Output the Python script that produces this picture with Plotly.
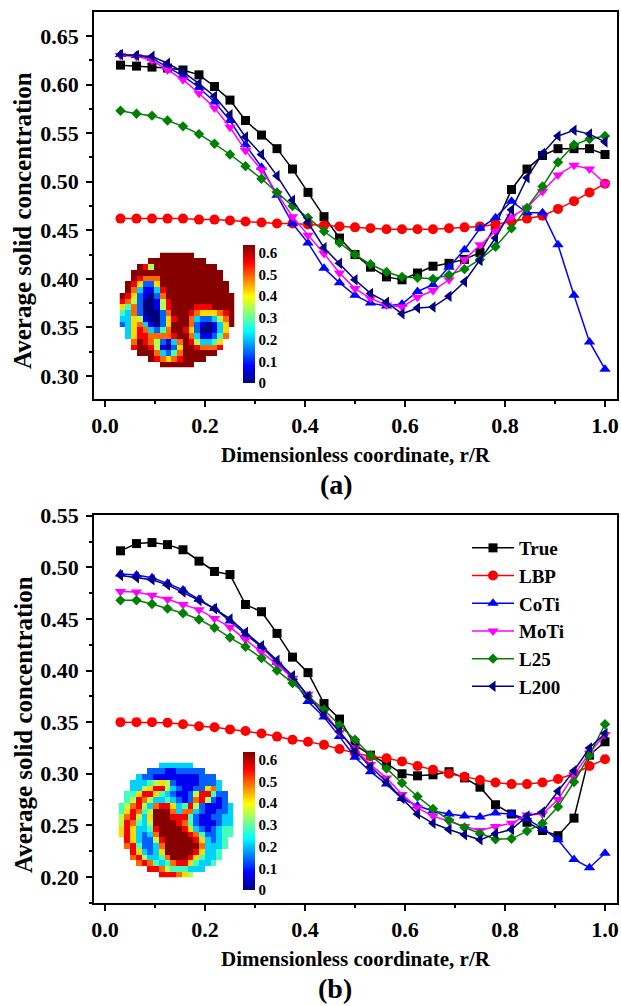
import plotly.graph_objects as go

# ---------------- data ----------------
r_R = [0.031, 0.063, 0.094, 0.125, 0.156, 0.188, 0.219, 0.250, 0.281, 0.313, 0.344,
       0.375, 0.406, 0.438, 0.469, 0.500, 0.531, 0.563, 0.594, 0.625, 0.656, 0.688,
       0.719, 0.750, 0.781, 0.813, 0.844, 0.875, 0.906, 0.938, 0.969, 1.000]

series_names = ["True", "LBP", "CoTi", "MoTi", "L25", "L200"]

# panel (a)
true_a = [0.620, 0.619, 0.618, 0.617, 0.615, 0.610, 0.598, 0.584, 0.563, 0.548, 0.534,
          0.513, 0.489, 0.464, 0.442, 0.425, 0.412, 0.402, 0.399, 0.406, 0.413, 0.416,
          0.420, 0.427, 0.455, 0.492, 0.513, 0.527, 0.534, 0.534, 0.534, 0.528]
lbp_a = [0.462, 0.462, 0.462, 0.462, 0.462, 0.461, 0.461, 0.460, 0.459, 0.458, 0.457,
         0.457, 0.456, 0.455, 0.454, 0.453, 0.452, 0.451, 0.451, 0.451, 0.451, 0.452,
         0.453, 0.454, 0.456, 0.459, 0.462, 0.465, 0.472, 0.480, 0.489, 0.498]
coti_a = [0.631, 0.630, 0.627, 0.618, 0.609, 0.597, 0.582, 0.563, 0.538, 0.515, 0.486,
          0.457, 0.437, 0.411, 0.396, 0.383, 0.375, 0.372, 0.374, 0.387, 0.394, 0.412,
          0.430, 0.452, 0.463, 0.480, 0.468, 0.468, 0.435, 0.383, 0.335, 0.307]
moti_a = [0.630, 0.629, 0.625, 0.615, 0.605, 0.591, 0.576, 0.556, 0.532, 0.512, 0.488,
          0.464, 0.445, 0.426, 0.406, 0.390, 0.380, 0.373, 0.371, 0.381, 0.388, 0.399,
          0.420, 0.435, 0.449, 0.464, 0.473, 0.490, 0.507, 0.517, 0.513, 0.498]
l25_a = [0.573, 0.570, 0.568, 0.563, 0.557, 0.549, 0.539, 0.528, 0.516, 0.503, 0.489,
         0.475, 0.463, 0.449, 0.437, 0.425, 0.415, 0.407, 0.402, 0.401, 0.400, 0.404,
         0.410, 0.420, 0.433, 0.452, 0.473, 0.495, 0.520, 0.538, 0.544, 0.547]
l200_a = [0.631, 0.630, 0.629, 0.622, 0.613, 0.601, 0.588, 0.569, 0.546, 0.528, 0.506,
          0.481, 0.458, 0.432, 0.416, 0.399, 0.385, 0.376, 0.364, 0.370, 0.371, 0.382,
          0.397, 0.419, 0.442, 0.471, 0.504, 0.529, 0.547, 0.553, 0.549, 0.541]

# panel (b)
true_b = [0.516, 0.523, 0.524, 0.522, 0.517, 0.506, 0.496, 0.493, 0.464, 0.457, 0.436,
          0.413, 0.398, 0.368, 0.353, 0.328, 0.318, 0.310, 0.300, 0.298, 0.299, 0.302,
          0.296, 0.287, 0.270, 0.261, 0.253, 0.245, 0.240, 0.257, 0.318, 0.331]
lbp_b = [0.350, 0.350, 0.350, 0.3495, 0.348, 0.346, 0.345, 0.343, 0.3415, 0.339, 0.336,
         0.333, 0.331, 0.328, 0.324, 0.320, 0.317, 0.315, 0.312, 0.3075, 0.304, 0.300,
         0.297, 0.294, 0.2915, 0.290, 0.290, 0.2915, 0.295, 0.300, 0.3075, 0.314]
coti_b = [0.4935, 0.4925, 0.490, 0.4845, 0.478, 0.469, 0.460, 0.448, 0.435, 0.423, 0.408,
          0.393, 0.370, 0.355, 0.336, 0.316, 0.302, 0.290, 0.276, 0.269, 0.264, 0.261,
          0.259, 0.258, 0.262, 0.261, 0.256, 0.247, 0.236, 0.217, 0.209, 0.223]
moti_b = [0.4765, 0.476, 0.473, 0.469, 0.464, 0.459, 0.4505, 0.442, 0.430, 0.418, 0.406,
          0.3925, 0.377, 0.360, 0.340, 0.325, 0.309, 0.296, 0.280, 0.267, 0.259, 0.254,
          0.249, 0.245, 0.249, 0.252, 0.260, 0.261, 0.275, 0.299, 0.320, 0.338]
l25_b = [0.468, 0.468, 0.4645, 0.460, 0.4555, 0.4495, 0.4415, 0.432, 0.423, 0.412, 0.400,
         0.388, 0.375, 0.362, 0.347, 0.333, 0.318, 0.305, 0.291, 0.278, 0.266, 0.255,
         0.248, 0.242, 0.2365, 0.237, 0.2445, 0.252, 0.268, 0.292, 0.318, 0.348]
l200_b = [0.492, 0.490, 0.488, 0.483, 0.476, 0.468, 0.460, 0.450, 0.437, 0.424, 0.410,
          0.395, 0.375, 0.357, 0.341, 0.322, 0.307, 0.292, 0.276, 0.261, 0.252, 0.246,
          0.241, 0.236, 0.242, 0.246, 0.259, 0.263, 0.283, 0.303, 0.325, 0.339]

cbar_ticks = [0, 0.1, 0.2, 0.3, 0.4, 0.5, 0.6]
cbar_labels = ["0", "0.1", "0.2", "0.3", "0.4", "0.5", "0.6"]

# inset cross-section maps (digit d -> concentration d*0.07)
inset_a = [
    "99999999999999999999",
    "99999999999999999999",
    "99998599999999999999",
    "99999999999999999999",
    "99987779999999999999",
    "99862269999999999999",
    "99731138999999999999",
    "98621027999999999999",
    "87520015899999999999",
    "64720015899998889999",
    "43720002799987666789",
    "33651002689973223579",
    "23673102699972101369",
    "23687324799862001369",
    "33688777789973112479",
    "34798752137985334689",
    "45899851026998777899",
    "97899973247999999999",
    "99999987678999999999",
    "99999999999999999999",
]
inset_b = [
    "33333333333333333333",
    "33333222112222233333",
    "44332211111111222333",
    "44333456521111222334",
    "44335688532112267334",
    "44468864321125884223",
    "44587533432127852123",
    "45785378863485211123",
    "46874599973773211223",
    "57853699988842112233",
    "58743599998742111233",
    "68633489999863212344",
    "68632379999987422344",
    "68632258999998632344",
    "57842237999999733344",
    "56863236999998633444",
    "55785334799986433444",
    "55678743478864334444",
    "55567887544433344444",
    "55556678887654444444",
]

# ---------------- style ----------------
FONT = "Liberation Serif"
W, H = 621, 1006


def fnt(size):
    return dict(family=FONT, size=size, color="black", weight="bold")


colors = ["#000000", "#FF0000", "#0000FF", "#FF00FF", "#008000", "#000080"]
symbols = ["square", "circle", "triangle-up", "triangle-down", "diamond", "triangle-left"]
sizes = [9, 10, 10, 10, 8, 10]

jet = [[0, "#00007F"], [0.125, "#0000FF"], [0.375, "#00FFFF"],
       [0.625, "#FFFF00"], [0.875, "#FF0000"], [1, "#7F0000"]]


def decode(rows):
    n = len(rows)
    z = []
    for r, row in enumerate(rows):
        zr = []
        for c, ch in enumerate(row):
            dx = c + 0.5 - n / 2
            dy = r + 0.5 - n / 2
            zr.append(int(ch) * 0.07 if dx * dx + dy * dy <= (n / 2) ** 2 else None)
        z.append(zr)
    return z


fig = go.Figure()

panel_a = [true_a, lbp_a, coti_a, moti_a, l25_a, l200_a]
panel_b = [true_b, lbp_b, coti_b, moti_b, l25_b, l200_b]

for k, (name, ys) in enumerate(zip(series_names, panel_a)):
    fig.add_trace(go.Scatter(
        x=r_R, y=ys, name=name, mode="lines+markers", xaxis="x", yaxis="y",
        line=dict(color=colors[k], width=1.5),
        marker=dict(symbol=symbols[k], size=sizes[k], color=colors[k], line=dict(width=0)),
        showlegend=False))

for k, (name, ys) in enumerate(zip(series_names, panel_b)):
    fig.add_trace(go.Scatter(
        x=r_R, y=ys, name=name, mode="lines+markers", xaxis="x2", yaxis="y2",
        line=dict(color=colors[k], width=1.5),
        marker=dict(symbol=symbols[k], size=sizes[k], color=colors[k], line=dict(width=0)),
        showlegend=True))


def cbar(yc):
    return dict(x=243 / W, xanchor="left", xpad=0, y=(H - yc) / H, yanchor="middle",
                ypad=0, len=138, lenmode="pixels", thickness=12, thicknessmode="pixels",
                outlinewidth=0, tickvals=cbar_ticks, ticktext=cbar_labels, ticks="",
                tickfont=fnt(15))


for grid, xa, ya, yc in [(inset_a, "x3", "y3", 314), (inset_b, "x4", "y4", 821)]:
    z = decode(grid)
    fig.add_trace(go.Heatmap(
        z=z, x=list(range(len(grid))), y=list(range(len(grid))), xaxis=xa, yaxis=ya,
        colorscale=jet, zmin=0, zmax=0.635, zsmooth=False, showscale=True,
        colorbar=cbar(yc), hoverinfo="skip"))

common_x = dict(range=[-0.022, 1.024], tick0=0, dtick=0.2, tickformat=".1f",
                ticks="outside", ticklen=6, tickwidth=1.5, tickcolor="black",
                minor=dict(dtick=0.1, tick0=0, ticks="outside", ticklen=3.5,
                           tickwidth=1.5, tickcolor="black"),
                showline=True, linecolor="black", linewidth=1.5, mirror=True,
                showgrid=False, zeroline=False, tickfont=fnt(22), automargin=False)
common_y = dict(tick0=0, dtick=0.05, tickformat=".2f",
                ticks="outside", ticklen=6, tickwidth=1.5, tickcolor="black",
                minor=dict(dtick=0.025, tick0=0, ticks="outside", ticklen=3.5,
                           tickwidth=1.5, tickcolor="black"),
                showline=True, linecolor="black", linewidth=1.5, mirror=True,
                showgrid=False, zeroline=False, tickfont=fnt(22), ticklabelstandoff=3,
                automargin=False)


def ann(text, xc, yc, size, angle=0):
    return dict(text=text, x=xc / W, y=(H - yc) / H, xref="paper", yref="paper",
                xanchor="center", yanchor="middle", showarrow=False, font=fnt(size),
                textangle=angle)


xdom = [94 / W, 617 / W]
fig.update_layout(
    width=W, height=H, margin=dict(l=0, r=0, t=0, b=0, autoexpand=False),
    paper_bgcolor="white", plot_bgcolor="rgba(0,0,0,0)",
    font=fnt(21),
    xaxis=dict(domain=xdom, anchor="y", **common_x),
    yaxis=dict(domain=[(H - 399) / H, (H - 12) / H], anchor="x",
               range=[0.2763, 0.6747], **common_y),
    xaxis2=dict(domain=xdom, anchor="y2", **common_x),
    yaxis2=dict(domain=[(H - 903) / H, (H - 515) / H], anchor="x2",
                range=[0.1748, 0.5507], **common_y),
    xaxis3=dict(domain=[119.5 / W, 234.5 / W], anchor="y3", range=[-0.5, 19.5],
                visible=False, automargin=False),
    yaxis3=dict(domain=[(H - 367.5) / H, (H - 252.5) / H], anchor="x3",
                range=[19.5, -0.5], visible=False, automargin=False),
    xaxis4=dict(domain=[118.5 / W, 233.5 / W], anchor="y4", range=[-0.5, 19.5],
                visible=False, automargin=False),
    yaxis4=dict(domain=[(H - 877.5) / H, (H - 762.5) / H], anchor="x4",
                range=[19.5, -0.5], visible=False, automargin=False),
    legend=dict(x=467 / W, xanchor="left", y=(H - 529) / H, yanchor="top",
                font=fnt(19), bgcolor="rgba(0,0,0,0)", borderwidth=0,
                tracegroupgap=0, itemwidth=42),
    annotations=[
        ann("Dimensionless coordinate, r/R", 355.5, 455, 21),
        ann("Average solid concentration", 23, 221, 25, -90),
        ann("(a)", 336.5, 484, 28),
        ann("Dimensionless coordinate, r/R", 355.5, 959, 21),
        ann("Average solid concentration", 23, 725, 25, -90),
        ann("(b)", 335, 988, 28),
    ],
)

fig.write_html("out.html")
